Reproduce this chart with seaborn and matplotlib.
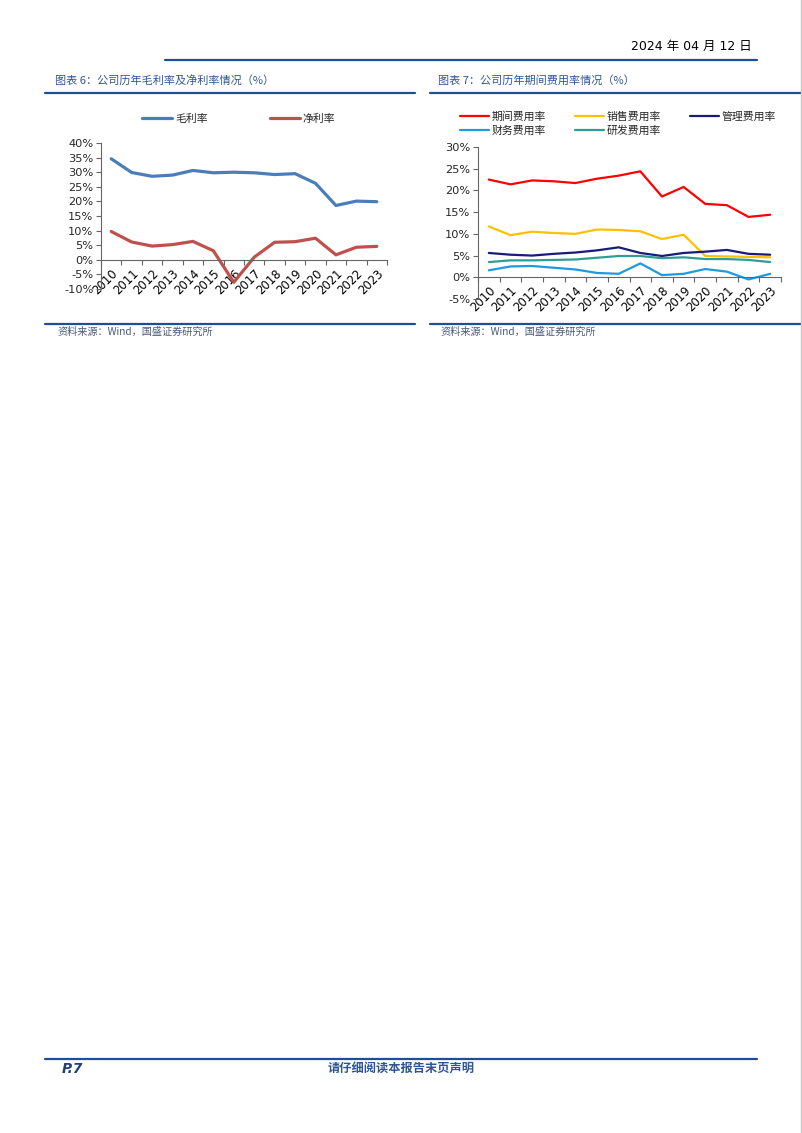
import matplotlib
matplotlib.use('Agg')
import matplotlib.pyplot as plt
import seaborn as sns
import pandas as pd
from matplotlib.lines import Line2D
from matplotlib.ticker import FuncFormatter, MultipleLocator

sns.set_style('ticks')
plt.rcParams['font.family'] = ['DejaVu Sans', 'Noto Sans CJK SC']
plt.rcParams['axes.unicode_minus'] = False

years = ['2010', '2011', '2012', '2013', '2014', '2015', '2016',
         '2017', '2018', '2019', '2020', '2021', '2022', '2023']

# chart 6: gross / net margin (%)
gross_margin = [34.6, 29.9, 28.6, 29.0, 30.6, 29.8, 30.0, 29.8, 29.2, 29.5, 26.2, 18.6, 20.1, 19.9]
net_margin = [9.7, 6.1, 4.7, 5.2, 6.3, 3.1, -7.7, 0.9, 6.0, 6.2, 7.4, 1.7, 4.3, 4.6]

# chart 7: expense ratios (%)
period_exp = [22.5, 21.4, 22.3, 22.1, 21.7, 22.7, 23.4, 24.4, 18.6, 20.8, 16.9, 16.6, 13.9, 14.4]
sales_exp = [11.7, 9.7, 10.5, 10.2, 10.0, 11.0, 10.9, 10.6, 8.8, 9.8, 4.9, 4.8, 4.7, 4.6]
admin_exp = [5.6, 5.2, 5.0, 5.4, 5.7, 6.2, 6.9, 5.6, 4.9, 5.6, 5.9, 6.3, 5.4, 5.2]
fin_exp = [1.6, 2.5, 2.6, 2.2, 1.8, 1.0, 0.8, 3.2, 0.5, 0.8, 1.9, 1.3, -0.5, 0.8]
rd_exp = [3.5, 3.9, 3.9, 4.0, 4.1, 4.5, 4.9, 4.9, 4.4, 4.6, 4.2, 4.2, 4.0, 3.5]

W, H = 802, 1133
NAVY = '#1f4e96'
TITLE_C = '#2f5597'
CJK = ['Noto Sans CJK SC', 'DejaVu Sans']

fig = plt.figure(figsize=(W / 100, H / 100), dpi=100)


def fx(x):
    return x / W


def fy(y):
    return 1 - y / H


def hline(x0, x1, y, color=NAVY, lw=1.6):
    fig.add_artist(Line2D([fx(x0), fx(x1)], [fy(y), fy(y)], color=color, lw=lw))


def add_axes(x0, x1, y0, y1):
    return fig.add_axes([fx(x0), fy(y1), fx(x1 - x0), (y1 - y0) / H])


def style_axes(ax, ymin, ymax, step):
    ax.set_xlim(-0.5, len(years) - 0.5)
    ax.set_ylim(ymin, ymax)
    ax.yaxis.set_major_locator(MultipleLocator(step))
    ax.yaxis.set_major_formatter(FuncFormatter(lambda v, p: f'{v:.0f}%'))
    ax.spines['top'].set_visible(False)
    ax.spines['right'].set_visible(False)
    ax.spines['bottom'].set_position(('data', 0))
    for s in ['left', 'bottom']:
        ax.spines[s].set_color('#666666')
        ax.spines[s].set_linewidth(0.8)
    ax.set_xticks(range(len(years)))
    ax.set_xticklabels(years, rotation=45, ha='right', rotation_mode='anchor')
    ax.set_xticks([i - 0.5 for i in range(len(years) + 1)], minor=True)
    ax.tick_params(axis='x', which='major', length=0, pad=5, labelsize=8.4, colors='black')
    ax.tick_params(axis='x', which='minor', length=3.5, width=0.8, color='#666666', direction='out')
    ax.tick_params(axis='y', length=3.5, width=0.8, color='#666666', labelsize=8.2, pad=2)
    ax.set_xlabel('')
    ax.set_ylabel('')
    ax.grid(False)


# ---------- header ----------
fig.text(fx(752), fy(46), '2024 年 04 月 12 日', ha='right', va='center',
         fontsize=9, color='black', family=['DejaVu Sans', 'Noto Sans CJK SC'])
hline(165, 757, 59.5)

# ---------- chart 6 ----------
fig.text(fx(55), fy(80), '图表 6：公司历年毛利率及净利率情况（%）', ha='left', va='center',
         fontsize=8, color=TITLE_C, style='italic', family=CJK)
hline(45, 415, 93)

ax1 = add_axes(101, 387, 143, 289)
x_idx = list(range(len(years)))
sns.lineplot(x=x_idx, y=gross_margin, ax=ax1, color='#4a7ebb', lw=2.3, label='毛利率')
sns.lineplot(x=x_idx, y=net_margin, ax=ax1, color='#c0504d', lw=2.3, label='净利率')
style_axes(ax1, -10, 40, 5)
ax1.legend(loc='center', bbox_to_anchor=(fx(239), fy(119)), bbox_transform=fig.transFigure,
           ncol=2, frameon=False, handlelength=2.7, handletextpad=0.3,
           columnspacing=5.8, borderaxespad=0, prop={'family': CJK, 'size': 7.8})

hline(45, 415, 323.5)
fig.text(fx(57), fy(332), '资料来源：Wind，国盛证券研究所', ha='left', va='center',
         fontsize=7.3, color='#4a5a7a', style='italic', family=CJK)

# ---------- chart 7 ----------
fig.text(fx(438), fy(80), '图表 7：公司历年期间费用率情况（%）', ha='left', va='center',
         fontsize=8, color=TITLE_C, style='italic', family=CJK)
hline(430, 801, 93)

ax2 = add_axes(478, 781, 147, 299)
series7 = [('期间费用率', period_exp, '#ff0000'),
           ('销售费用率', sales_exp, '#ffc000'),
           ('管理费用率', admin_exp, '#1a1a7a'),
           ('财务费用率', fin_exp, '#1e9be0'),
           ('研发费用率', rd_exp, '#2e9e95')]
for name, vals, col in series7:
    sns.lineplot(x=x_idx, y=vals, ax=ax2, color=col, lw=1.6, label=name)
style_axes(ax2, -5, 30, 5)
handles, labels = ax2.get_legend_handles_labels()
order = [0, 3, 1, 4, 2]  # column-major fill so rows read left to right
ax2.legend([handles[i] for i in order], [labels[i] for i in order],
           loc='upper left', bbox_to_anchor=(fx(456), fy(107)), bbox_transform=fig.transFigure,
           ncol=3, frameon=False, handlelength=2.6, handletextpad=0.3,
           columnspacing=2.7, labelspacing=0.35, borderaxespad=0,
           prop={'family': CJK, 'size': 7.8})

hline(430, 801, 323.5)
fig.text(fx(440), fy(332), '资料来源：Wind，国盛证券研究所', ha='left', va='center',
         fontsize=7.3, color='#4a5a7a', style='italic', family=CJK)

# ---------- footer ----------
hline(45, 757, 1059)
fig.text(fx(62), fy(1069), 'P.7', ha='left', va='center', fontsize=10,
         fontweight='bold', style='italic', color='#1f3f80')
fig.text(fx(401), fy(1069), '请仔细阅读本报告末页声明', ha='center', va='center',
         fontsize=8.8, fontweight='bold', style='italic', color=TITLE_C, family=CJK)

# right page edge
fig.add_artist(Line2D([fx(801), fx(801)], [0, 1], color='#c8c8c8', lw=1))

fig.savefig('out.png', dpi=100)
